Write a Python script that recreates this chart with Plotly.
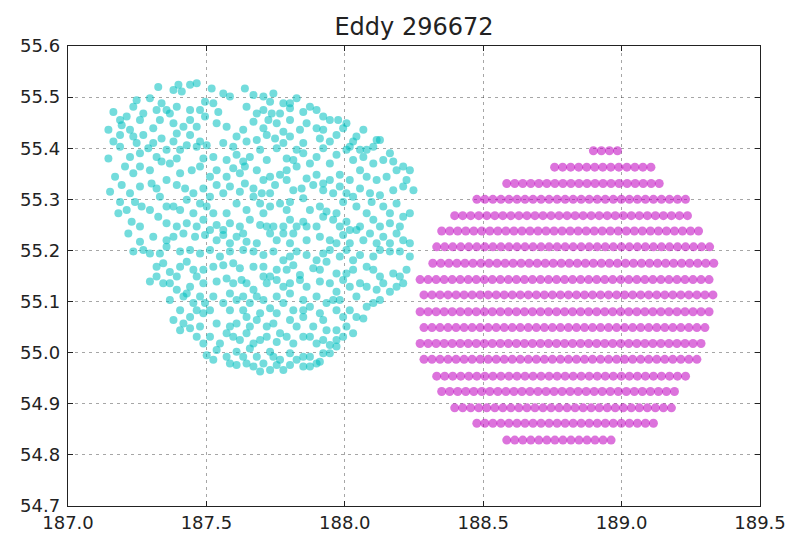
import numpy as np
import plotly.graph_objects as go

TITLE = "Eddy 296672"

cyan_lon = [
    187.326, 187.399, 187.411, 187.465, 187.519, 187.561, 187.639, 187.670, 187.742, 187.778, 187.826, 187.730,
    187.248, 187.296, 187.338, 187.164, 187.212, 187.272, 187.320, 187.393, 187.441, 187.495, 187.525, 187.543,
    187.682, 187.706, 187.736, 187.802, 187.850, 187.898, 187.946, 187.976,
    187.146, 187.194, 187.260, 187.332, 187.381, 187.441, 187.495, 187.537, 187.573, 187.670, 187.724, 187.754,
    187.802, 187.862, 187.922, 187.994, 188.042, 188.115,
    187.188, 187.236, 187.272, 187.338, 187.393, 187.441, 187.477, 187.501, 187.561, 187.609, 187.645, 187.718,
    187.748, 187.802, 187.850, 187.910, 187.946, 188.030, 188.079, 188.127,
    187.146, 187.188, 187.290, 187.356, 187.405, 187.465, 187.525, 187.573, 187.609, 187.657, 187.694, 187.754,
    187.790, 187.850, 187.898, 187.970, 188.006, 188.067, 188.139, 188.211,
    187.170, 187.206, 187.260, 187.338, 187.368, 187.447, 187.477, 187.537, 187.597, 187.639, 187.682, 187.730,
    187.790, 187.826, 187.898, 187.922, 187.982, 188.055, 188.115, 188.187,
    187.152, 187.194, 187.260, 187.302, 187.356, 187.393, 187.423, 187.489, 187.537, 187.585, 187.639, 187.670,
    187.700, 187.748, 187.790, 187.844, 187.886, 187.958, 188.006, 188.055, 188.091, 188.211, 188.248,
    187.188, 187.242, 187.266, 187.332, 187.381, 187.429, 187.477, 187.525, 187.573, 187.609, 187.670, 187.694,
    187.730, 187.766, 187.802, 187.850, 187.910, 187.934, 187.994, 188.042, 188.097, 188.139, 188.187, 188.235,
    187.182, 187.230, 187.326, 187.393, 187.429, 187.489, 187.537, 187.585, 187.621, 187.657, 187.694, 187.742,
    187.802, 187.850, 187.922, 187.958, 188.006, 188.055, 188.103, 188.163, 188.211,
    187.218, 187.260, 187.417, 187.459, 187.495, 187.561, 187.609, 187.682, 187.730, 187.778, 187.814, 187.862,
    187.910, 187.946, 187.994, 188.042, 188.091, 188.139, 188.187, 188.235,
    187.236, 187.296, 187.356, 187.405, 187.477, 187.513, 187.585, 187.633, 187.706, 187.742, 187.778, 187.826,
    187.898, 187.946, 188.006, 188.055, 188.103, 188.163, 188.199,
    187.320, 187.368, 187.405, 187.453, 187.489, 187.561, 187.621, 187.670, 187.730, 187.790, 187.838, 187.886,
    187.934, 187.970, 188.030, 188.079, 188.127, 188.175, 188.223,
    187.296, 187.344, 187.393, 187.441, 187.489, 187.537, 187.573, 187.627, 187.670, 187.718, 187.754, 187.802,
    187.862, 187.910, 187.970, 188.018, 188.055, 188.115, 188.163, 188.211,
    187.368, 187.417, 187.453, 187.495, 187.525, 187.561, 187.609, 187.657, 187.682, 187.730, 187.778, 187.814,
    187.874, 187.934, 187.982, 188.018, 188.079, 188.103,
    187.381, 187.441, 187.489, 187.537, 187.585, 187.645, 187.682, 187.718, 187.766, 187.802, 187.850, 187.886,
    187.922, 187.970, 188.030, 188.067,
    187.405, 187.441, 187.513, 187.549, 187.597, 187.645, 187.694, 187.754, 187.814, 187.850, 187.898, 187.946,
    187.994,
    187.501, 187.537, 187.573, 187.609, 187.657, 187.682, 187.730, 187.766, 187.802, 187.850, 187.898, 187.922,
    187.970,
    187.609, 187.645, 187.694, 187.754, 187.778, 187.850, 187.910,
    # second reading pass
    187.381, 187.441, 187.585, 187.706, 187.802, 187.874,
    187.356, 187.236, 187.188, 187.368, 187.477, 187.645, 187.766, 187.922, 188.006, 188.067,
    187.224, 187.308, 187.417, 187.465, 187.633, 187.706, 187.778, 187.838, 187.898, 187.970, 188.103, 188.018,
    187.164, 187.248, 187.308, 187.381, 187.429, 187.597, 187.682, 187.778, 187.826, 187.922, 188.055, 188.163,
    187.224, 187.260, 187.320, 187.393, 187.489, 187.633, 187.718, 187.814, 187.874, 187.946, 188.030, 188.103,
    188.175, 188.235,
    187.236, 187.296, 187.405, 187.513, 187.573, 187.621, 187.706, 187.766, 187.862, 187.946, 188.018, 188.079,
    188.151, 188.223,
    187.224, 187.320, 187.453, 187.513, 187.561, 187.621, 187.730, 187.814, 187.922, 187.982, 188.030, 188.127,
    188.175,
    187.212, 187.296, 187.356, 187.405, 187.453, 187.501, 187.645, 187.706, 187.790, 187.874, 187.970, 188.079,
    188.163,
    187.260, 187.356, 187.465, 187.513, 187.561, 187.633, 187.718, 187.778, 187.826, 187.898, 187.982, 188.018,
    188.127, 188.199,
    187.308, 187.356, 187.381, 187.537, 187.585, 187.645, 187.754, 187.802, 187.862, 187.970, 188.018, 188.067,
    188.115, 188.163, 188.211,
    187.272, 187.332, 187.441, 187.549, 187.670, 187.802, 187.862, 187.922, 187.982, 188.030, 188.127, 188.235,
    187.344, 187.429, 187.525, 187.597, 187.706, 187.754, 187.814, 187.910, 188.006, 188.103, 188.199,
    187.320, 187.368, 187.465, 187.597, 187.645, 187.706, 187.778, 187.838, 187.946, 187.994, 188.079, 188.139,
    188.187,
    187.393, 187.429, 187.477, 187.585, 187.633, 187.706, 187.754, 187.802, 187.850, 187.898, 187.958, 188.042,
    188.127,
    187.405, 187.465, 187.513, 187.585, 187.633, 187.694, 187.754, 187.850, 187.910, 187.970, 188.042, 187.994,
    187.417, 187.477, 187.609, 187.657, 187.742, 187.826, 187.934, 188.006,
    187.465, 187.489, 187.573, 187.621, 187.670, 187.718, 187.790, 187.874, 187.922, 187.970,
    187.525, 187.585, 187.633, 187.706, 187.742, 187.826, 187.874, 187.946,
    187.670, 187.730, 187.802, 187.874,
]
cyan_lat = [
    55.520, 55.524, 55.511, 55.527, 55.517, 55.507, 55.517, 55.504, 55.507, 55.488, 55.498, 55.491,
    55.494, 55.498, 55.488, 55.471, 55.462, 55.468, 55.475, 55.481, 55.475, 55.491, 55.488, 55.471,
    55.468, 55.475, 55.468, 55.478, 55.471, 55.475, 55.455, 55.455,
    55.436, 55.445, 55.455, 55.455, 55.449, 55.455, 55.462, 55.449, 55.442, 55.452, 55.455, 55.449,
    55.455, 55.449, 55.436, 55.439, 55.423, 55.416,
    55.426, 55.423, 55.426, 55.419, 55.429, 55.426, 55.413, 55.406, 55.410, 55.423, 55.413, 55.426,
    55.419, 55.423, 55.410, 55.419, 55.413, 55.413, 55.397, 55.416,
    55.380, 55.403, 55.400, 55.397, 55.397, 55.403, 55.383, 55.377, 55.387, 55.383, 55.397, 55.400,
    55.380, 55.390, 55.383, 55.387, 55.397, 55.383, 55.377, 55.364,
    55.344, 55.364, 55.364, 55.374, 55.370, 55.357, 55.364, 55.357, 55.361, 55.364, 55.357, 55.344,
    55.357, 55.364, 55.348, 55.331, 55.348, 55.357, 55.338, 55.357,
    55.315, 55.328, 55.325, 55.331, 55.338, 55.328, 55.321, 55.321, 55.328, 55.325, 55.331, 55.321,
    55.312, 55.328, 55.338, 55.321, 55.328, 55.312, 55.312, 55.321, 55.312, 55.325, 55.318,
    55.295, 55.295, 55.286, 55.305, 55.286, 55.299, 55.292, 55.273, 55.273, 55.292, 55.305, 55.292,
    55.286, 55.292, 55.295, 55.302, 55.286, 55.276, 55.295, 55.286, 55.295, 55.286, 55.292, 55.273,
    55.273, 55.256, 55.266, 55.247, 55.253, 55.260, 55.250, 55.253, 55.247, 55.260, 55.250, 55.247,
    55.260, 55.256, 55.266, 55.260, 55.256, 55.247, 55.260, 55.253, 55.266,
    55.233, 55.217, 55.233, 55.227, 55.230, 55.230, 55.227, 55.214, 55.233, 55.233, 55.233, 55.247,
    55.227, 55.220, 55.230, 55.240, 55.233, 55.227, 55.233, 55.214,
    55.198, 55.194, 55.207, 55.198, 55.194, 55.201, 55.198, 55.201, 55.191, 55.198, 55.181, 55.198,
    55.181, 55.201, 55.201, 55.191, 55.188, 55.198, 55.198,
    55.168, 55.158, 55.168, 55.162, 55.162, 55.171, 55.165, 55.168, 55.149, 55.162, 55.152, 55.165,
    55.178, 55.155, 55.162, 55.168, 55.149, 55.155, 55.162,
    55.139, 55.136, 55.149, 55.129, 55.136, 55.139, 55.145, 55.142, 55.123, 55.136, 55.142, 55.136,
    55.129, 55.139, 55.119, 55.129, 55.136, 55.123, 55.119, 55.136,
    55.103, 55.110, 55.097, 55.097, 55.110, 55.097, 55.103, 55.097, 55.110, 55.087, 55.097, 55.083,
    55.090, 55.097, 55.103, 55.083, 55.090, 55.097,
    55.064, 55.070, 55.077, 55.057, 55.051, 55.070, 55.064, 55.051, 55.038, 55.064, 55.070, 55.051,
    55.064, 55.044, 55.038, 55.067,
    55.044, 55.048, 55.031, 55.018, 55.031, 55.038, 55.025, 55.021, 55.018, 55.031, 55.018, 55.015,
    55.031,
    54.995, 55.005, 54.992, 55.002, 55.008, 54.992, 55.002, 54.986, 54.999, 54.992, 54.979, 54.999,
    55.012,
    54.976, 54.979, 54.963, 54.976, 54.966, 54.973, 54.982,
    # second reading pass
    55.514, 55.524, 55.501, 55.501, 55.488, 55.481,
    55.475, 55.481, 55.455, 55.468, 55.475, 55.481, 55.468, 55.462, 55.449, 55.436,
    55.436, 55.439, 55.442, 55.442, 55.436, 55.439, 55.432, 55.436, 55.439, 55.426, 55.403, 55.403,
    55.413, 55.410, 55.410, 55.413, 55.406, 55.403, 55.416, 55.410, 55.397, 55.400, 55.397, 55.390,
    55.383, 55.390, 55.383, 55.380, 55.380, 55.374, 55.377, 55.377, 55.370, 55.370, 55.377, 55.370,
    55.374, 55.357,
    55.351, 55.357, 55.351, 55.344, 55.344, 55.351, 55.338, 55.348, 55.341, 55.338, 55.338, 55.344,
    55.344, 55.338,
    55.312, 55.321, 55.312, 55.305, 55.312, 55.315, 55.312, 55.318, 55.318, 55.325, 55.305, 55.308,
    55.318,
    55.279, 55.279, 55.286, 55.279, 55.273, 55.286, 55.279, 55.273, 55.279, 55.279, 55.273, 55.273,
    55.273,
    55.247, 55.253, 55.247, 55.240, 55.240, 55.233, 55.247, 55.247, 55.247, 55.247, 55.247, 55.240,
    55.247, 55.247,
    55.227, 55.220, 55.227, 55.220, 55.214, 55.217, 55.220, 55.214, 55.220, 55.214, 55.214, 55.220,
    55.214, 55.214, 55.220,
    55.201, 55.194, 55.201, 55.188, 55.198, 55.188, 55.191, 55.194, 55.188, 55.181, 55.201, 55.188,
    55.175, 55.178, 55.168, 55.175, 55.168, 55.162, 55.171, 55.162, 55.155, 55.162, 55.149,
    55.149, 55.136, 55.149, 55.136, 55.136, 55.149, 55.129, 55.142, 55.136, 55.142, 55.129, 55.136,
    55.129,
    55.123, 55.116, 55.110, 55.116, 55.110, 55.103, 55.110, 55.116, 55.103, 55.110, 55.103, 55.110,
    55.103,
    55.083, 55.083, 55.083, 55.083, 55.083, 55.077, 55.077, 55.083, 55.077, 55.083, 55.070, 55.070,
    55.057, 55.051, 55.057, 55.051, 55.057, 55.051, 55.044, 55.051,
    55.031, 55.018, 55.038, 55.025, 55.018, 55.031, 55.031, 55.031, 55.025, 55.025,
    54.986, 54.979, 54.992, 54.979, 54.992, 54.986, 54.992, 54.999,
    54.973, 54.966, 54.976, 54.973,
]

# Magenta model grid: one row per latitude, first longitude and number of cells
mag_lat = [55.395, 55.363, 55.331, 55.300, 55.268, 55.238, 55.207, 55.175, 55.143, 55.113,
           55.080, 55.049, 55.018, 54.987, 54.954, 54.924, 54.892, 54.862, 54.829]
mag_lon_start = [188.898, 188.758, 188.585, 188.477, 188.397, 188.350, 188.332, 188.318, 188.272, 188.286,
                 188.272, 188.286, 188.272, 188.286, 188.332, 188.350, 188.397, 188.477, 188.585]
mag_count = [4, 13, 20, 27, 30, 33, 35, 36, 37, 37, 37, 36, 36, 35, 32, 30, 28, 23, 14]
mag_step = 0.029  # grid spacing in longitude

mag_lon_pts, mag_lat_pts = [], []
for la, lo0, n in zip(mag_lat, mag_lon_start, mag_count):
    for i in range(n):
        mag_lon_pts.append(lo0 + i * mag_step)
        mag_lat_pts.append(la)

x_ticks = [187.0, 187.5, 188.0, 188.5, 189.0, 189.5]
y_ticks = [54.7, 54.8, 54.9, 55.0, 55.1, 55.2, 55.3, 55.4, 55.5, 55.6]

fig = go.Figure()
fig.add_trace(go.Scatter(
    x=cyan_lon, y=cyan_lat, mode="markers",
    marker=dict(size=8, color="rgba(0,191,191,0.55)", line=dict(width=0)),
    showlegend=False, hoverinfo="skip"))
fig.add_trace(go.Scatter(
    x=mag_lon_pts, y=mag_lat_pts, mode="markers",
    marker=dict(size=9, color="rgba(191,0,191,0.55)", line=dict(width=0)),
    showlegend=False, hoverinfo="skip"))

axis_common = dict(
    showline=True, linecolor="#222", linewidth=1.4, mirror="ticks",
    ticks="inside", ticklen=5, tickcolor="#222", tickwidth=1,
    showgrid=True, gridcolor="rgba(0,0,0,0.35)", gridwidth=1, griddash="3px,4px",
    zeroline=False, tickformat=".1f", automargin=False,
    tickfont=dict(family="DejaVu Sans", size=18, color="#222"),
)
fig.update_xaxes(range=[187.0, 189.5], tickvals=x_ticks, **axis_common)
fig.update_yaxes(range=[54.7, 55.6], tickvals=y_ticks, ticklabelstandoff=3, **axis_common)

fig.update_layout(
    width=790, height=533, autosize=False,
    margin=dict(l=68, r=30, t=46, b=27),
    paper_bgcolor="white", plot_bgcolor="white",
    title=dict(text=TITLE, x=414 / 790, xanchor="center", y=1 - 27 / 533, yanchor="middle",
               font=dict(family="DejaVu Sans", size=24, color="#222")),
)

fig.write_html(
    "out.html",
    config={"displayModeBar": False},
    post_script="document.body.style.margin='0';document.body.style.overflow='hidden';",
)
